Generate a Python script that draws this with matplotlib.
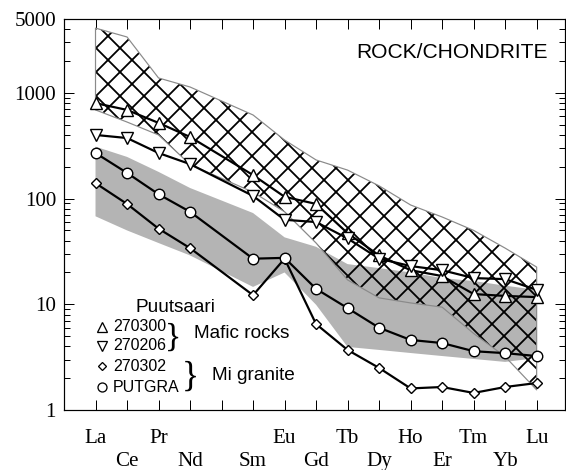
import numpy as np
import matplotlib
matplotlib.use("Agg")
import matplotlib.pyplot as plt

# REE order (Pm kept as an empty slot on the axis)
all_ree = ["La", "Ce", "Pr", "Nd", "Pm", "Sm", "Eu", "Gd", "Tb", "Dy", "Ho", "Er", "Tm", "Yb", "Lu"]
ree = ["La", "Ce", "Pr", "Nd", "Sm", "Eu", "Gd", "Tb", "Dy", "Ho", "Er", "Tm", "Yb", "Lu"]

# samples, normalised to chondrite
s270300 = [800, 690, 520, 383, 167, 104, 89, 47, 29, 21, 18.5, 12.5, 12, 11.7]
s270206 = [400, 374, 270, 212, 106, 63, 60, 42, 27, 23, 21, 17.7, 17.3, 13.7]
s270302 = [140, 89, 52, 34, 12.2, 27, 6.5, 3.7, 2.5, 1.6, 1.65, 1.45, 1.65, 1.8]
putgra = [270, 175, 110, 75, 27, 27.5, 14, 9.2, 6.0, 4.6, 4.3, 3.6, 3.45, 3.24]

# envelopes
mafic_max = [4100, 3380, 1384, 1137, 618, 358, 232, 186, 132, 87, 67, 50, 34, 22.5]
mafic_min = [690, 530, 400, 210, 115, 75, 38, 17, 11.5, 10.3, 9.4, 5.3, 3.2, 1.55]
granite_max = [310, 248, 179, 126, 73, 43, 35, 24, 22, 20, 17.7, 16.6, 15, 13.7]
granite_min = [68, 50, 38, 29, 14.6, 20, 9.9, 3.95, 3.7, 3.46, 3.24, 3.04, 2.85, 3.1]

x = [all_ree.index(e) for e in ree]

plt.rcParams["hatch.linewidth"] = 1.8
serif = "Liberation Serif"
sans = "Liberation Sans"

fig = plt.figure(figsize=(566 / 72, 470 / 72), dpi=72)
ax = fig.add_axes([64 / 566, 1 - 410 / 470, 501 / 566, 391 / 470])

ax.fill_between(x, granite_min, granite_max, facecolor="#b4b4b4", edgecolor="none", zorder=1)
ax.fill_between(x, mafic_min, mafic_max, facecolor="none", edgecolor="black",
                hatch="x", linewidth=0, zorder=2)
ax.fill_between(x, mafic_min, mafic_max, facecolor="none", edgecolor="#8a8a8a",
                linewidth=1.2, zorder=2)

lk = dict(color="black", lw=2.2, markerfacecolor="white", markeredgecolor="black",
          markeredgewidth=1.4, zorder=4)
ax.plot(x, s270300, marker="^", ms=12, **lk)
ax.plot(x, s270206, marker="v", ms=12, **lk)
ax.plot(x, s270302, marker="D", ms=7.5, **lk)
ax.plot(x, putgra, marker="o", ms=10.5, **lk)

ax.set_yscale("log")
ax.set_ylim(1, 5000)
ax.set_xlim(-1, 14.9)
ax.set_yticks([1, 10, 100, 1000, 5000])
ax.set_yticklabels(["1", "10", "100", "1000", "5000"])
ax.set_xticks(range(len(all_ree)))
labels = []
for i, e in enumerate(all_ree):
    if e == "Pm":
        labels.append("")
    elif i % 2 == 0:
        labels.append(e)
    else:
        labels.append("\n" + e)
ax.set_xticklabels(labels, linespacing=1.3)
ax.tick_params(axis="both", which="major", direction="in", length=10, width=1,
               top=True, right=True, labelsize=21)
ax.tick_params(axis="y", which="minor", direction="in", length=6, width=1, right=True)
ax.tick_params(axis="x", pad=19)
ax.tick_params(axis="y", pad=8)
for lab in ax.get_xticklabels() + ax.get_yticklabels():
    lab.set_fontfamily(serif)
for sp in ax.spines.values():
    sp.set_linewidth(1.2)

ax.text(0.966, 0.9156, "ROCK/CHONDRITE", transform=ax.transAxes, ha="right", va="center",
        fontsize=21, family=sans)

# legend block
ax.text(0.2216, 0.2634, "Puutsaari", transform=ax.transAxes, ha="center", va="center",
        fontsize=19, family=sans)
rows = [(0.2123, "^", 10, "270300"), (0.1637, "v", 10, "270206"),
        (0.1125, "D", 6, "270302"), (0.0588, "o", 9, "PUTGRA")]
for yy, m, ms, name in rows:
    ax.plot([0.0758], [yy], marker=m, ms=ms, markerfacecolor="white", markeredgecolor="black",
            markeredgewidth=1.3, transform=ax.transAxes, clip_on=False, zorder=5)
    ax.text(0.0978, yy, name, transform=ax.transAxes, ha="left", va="center",
            fontsize=16, family=sans)
ax.text(0.2176, 0.1867, "}", transform=ax.transAxes, ha="center", va="center",
        fontsize=34, family=serif)
ax.text(0.2515, 0.0844, "}", transform=ax.transAxes, ha="center", va="center",
        fontsize=36, family=serif)
ax.text(0.2595, 0.1944, "Mafic rocks", transform=ax.transAxes, ha="left", va="center",
        fontsize=19, family=sans)
ax.text(0.2954, 0.0895, "Mi granite", transform=ax.transAxes, ha="left", va="center",
        fontsize=19, family=sans)

fig.savefig("out.png", dpi=72)
